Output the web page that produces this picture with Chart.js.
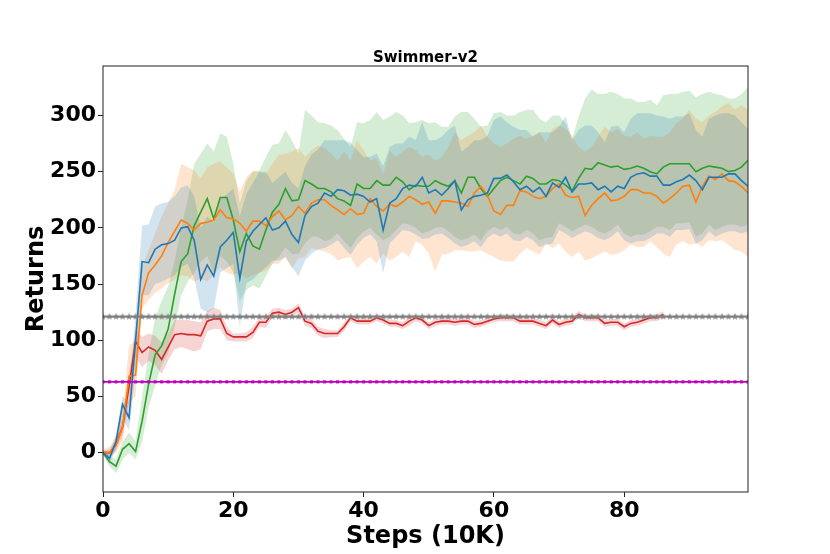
<!DOCTYPE html>
<html>
<head>
<meta charset="utf-8">
<script src="https://cdn.jsdelivr.net/npm/chart.js@4.4.1/dist/chart.umd.min.js"></script>
<style>
  html, body { margin: 0; padding: 0; background: #ffffff; }
  #wrap { width: 830px; height: 554px; }
</style>
</head>
<body>
<div id="wrap"><canvas id="c" width="830" height="554"></canvas></div>
<script>
// ---------- data ----------
const chartTitle = "Swimmer-v2";
const xTitle = "Steps (10K)";
const yTitle = "Returns";
const xTicks = [0, 20, 40, 60, 80];
const yTicks = [0, 50, 100, 150, 200, 250, 300];
const steps = Array.from({length: 100}, (_, i) => i);

const blueMean = [0,-5,10,43,31,100,170,169,181,185,186,189,200,201,189,154,167,157,183,189,196,155,188,197,203,209,198,200,206,194,187,211,219,222,231,228,234,233,229,230,228,223,226,198,222,226,235,238,237,245,231,234,229,235,242,216,225,228,229,231,244,244,247,241,234,237,232,236,228,240,236,245,232,239,239,240,234,237,232,237,235,245,248,249,246,246,238,238,241,243,247,242,234,245,245,245,248,248,242,237];
const blueUpper = [2,0,16,50,45,125,202,203,219,222,223,228,236,238,228,200,210,205,225,230,235,210,230,240,250,250,240,245,250,240,235,255,265,270,278,278,278,278,276,269,263,263,266,255,272,275,275,281,278,294,278,278,281,287,291,268,272,278,278,282,296,299,294,290,287,287,281,285,285,285,290,299,278,287,291,291,285,276,290,291,285,297,302,302,302,300,299,297,299,299,302,287,281,297,300,302,302,300,294,288];
const blueLower = [-2,-10,4,30,20,70,140,140,150,152,155,158,165,168,155,128,125,128,160,164,168,112,151,154,160,165,171,171,174,165,157,171,177,181,182,185,189,182,176,185,191,194,188,160,186,192,198,197,194,190,191,194,195,191,186,183,185,188,183,191,195,192,195,189,188,192,189,183,185,186,198,195,191,194,197,195,191,189,192,197,189,186,188,188,191,195,195,192,198,198,199,186,189,197,192,195,197,197,195,197];

const orangeMean = [0,0,7,22,68,69,140,160,167,175,187,197,207,204,198,204,205,207,216,209,208,204,197,206,206,202,210,215,207,211,219,213,222,225,225,220,216,212,217,212,213,226,219,215,221,219,223,228,225,221,223,213,224,224,223,222,219,231,237,229,215,212,220,220,233,232,228,226,228,235,239,229,227,228,211,220,226,231,224,225,228,234,234,231,231,228,222,226,231,237,238,223,237,246,243,248,242,241,237,231];
const orangeUpper = [3,5,15,35,95,100,165,180,195,210,222,234,257,254,251,244,254,257,259,254,248,232,245,251,250,248,257,265,266,268,271,263,269,273,271,266,260,268,260,278,269,260,262,248,268,263,268,272,269,263,265,260,263,272,285,278,282,285,291,281,275,272,275,279,282,279,282,285,276,288,291,288,282,272,268,272,281,290,285,288,282,281,285,279,282,281,281,285,293,297,305,297,294,300,303,308,311,305,309,305];
const orangeLower = [-3,-5,0,10,45,50,128,136,142,146,151,154,158,157,152,155,152,158,165,160,158,160,155,158,160,162,168,168,174,164,173,174,182,180,179,177,171,173,174,164,170,174,168,177,171,174,179,174,188,185,177,161,176,177,180,180,179,179,180,177,174,171,170,170,177,182,179,176,186,182,186,179,174,179,171,173,176,179,176,177,180,185,183,183,188,183,177,174,185,188,185,186,183,189,188,189,185,180,179,174];

const greenMean = [0,-8,-12,3,8,1,28,61,87,95,110,141,170,177,202,214,226,208,227,227,207,179,195,184,181,198,214,221,235,224,225,242,239,235,235,232,226,224,220,239,235,235,242,238,238,245,241,234,238,237,237,242,239,237,242,231,245,245,235,228,235,242,245,242,239,246,244,239,239,243,242,238,233,244,253,252,258,256,254,255,252,253,255,253,250,248,254,257,257,257,257,250,253,255,254,253,250,251,254,260];
const greenUpper = [2,-3,-6,10,18,10,50,88,120,135,148,171,200,225,257,266,275,268,284,281,257,222,242,250,251,263,274,275,287,278,266,305,300,294,293,291,287,279,272,294,293,296,303,296,299,303,300,293,294,296,293,294,290,290,299,303,303,297,290,291,302,303,300,300,303,305,305,297,294,300,300,293,279,299,315,323,319,319,321,319,315,315,312,312,314,309,318,319,319,321,322,316,319,321,319,318,315,315,319,325];
const greenLower = [-2,-12,-18,-6,0,-6,10,40,60,78,88,112,140,152,160,170,175,160,175,170,160,135,145,149,146,157,168,174,183,177,177,186,192,192,188,190,195,188,182,191,197,200,194,189,192,198,204,203,200,195,197,200,201,197,192,189,191,194,189,197,201,198,201,195,194,198,195,189,191,192,204,201,197,200,203,201,197,195,198,203,195,192,194,194,197,201,201,198,204,204,205,192,195,203,198,201,203,203,201,203];

const redMean = [0,0,7,23,59,99,89,94,91,83,94,105,106,105,105,104,117,119,119,106,103,103,103,107,116,116,124,125,123,125,129,117,115,108,106,106,106,112,120,117,117,117,120,118,115,115,113,117,120,118,113,116,117,117,116,117,117,114,115,117,119,120,120,120,117,117,117,115,113,118,114,116,117,123,120,120,120,115,116,116,112,115,116,118,120,120,123];
const redUpper = [2,3,12,30,72,110,103,106,104,98,106,118,118,118,117,116,126,129,127,112,106,106,107,112,120,121,128,129,127,128,133,121,119,112,110,109,109,116,123,120,120,120,123,121,118,118,116,121,123,121,116,119,120,120,119,120,120,117,118,120,122,123,123,123,120,120,120,118,116,121,117,119,120,126,123,123,123,118,119,119,115,118,119,121,123,123,126];
const redLower = [-2,-3,2,15,45,85,76,82,78,70,82,92,94,92,90,92,108,110,110,100,99,99,99,102,112,111,120,121,119,121,125,113,111,104,102,103,103,108,117,114,114,114,117,115,112,112,110,113,117,115,110,113,114,114,113,114,114,111,112,114,116,117,117,117,114,114,114,112,110,115,111,113,114,120,117,117,117,112,113,113,109,112,113,115,117,117,120];

const baselineGray = 121;
const baselineMagenta = 63;

// ---------- styles ----------
const C = {
  blue: '#1f77b4', orange: '#ff7f0e', green: '#2ca02c', red: '#d62728',
  gray: '#808080', magenta: '#bf00bf'
};
function rgba(hex, a) {
  const n = parseInt(hex.slice(1), 16);
  return `rgba(${(n >> 16) & 255},${(n >> 8) & 255},${n & 255},${a})`;
}
function pts(arr) { return arr.map((v, i) => ({x: steps[i], y: v})); }

// filled star marker
function makeStar(color, rOut, rIn) {
  const s = Math.ceil(rOut * 2 + 2);
  const cv = document.createElement('canvas');
  cv.width = s; cv.height = s;
  const g = cv.getContext('2d');
  g.fillStyle = color;
  g.beginPath();
  for (let k = 0; k < 10; k++) {
    const r = k % 2 === 0 ? rOut : rIn;
    const a = -Math.PI / 2 + k * Math.PI / 5;
    const px = s / 2 + r * Math.cos(a), py = s / 2 + r * Math.sin(a);
    if (k === 0) g.moveTo(px, py); else g.lineTo(px, py);
  }
  g.closePath();
  g.fill();
  return cv;
}
const starImg = makeStar(C.gray, 3.8, 1.6);

const series = [
  {c: C.blue, mean: blueMean, up: blueUpper, lo: blueLower},
  {c: C.orange, mean: orangeMean, up: orangeUpper, lo: orangeLower},
  {c: C.green, mean: greenMean, up: greenUpper, lo: greenLower},
  {c: C.red, mean: redMean, up: redUpper, lo: redLower}
];

const datasets = [];
series.forEach(s => {
  const base = datasets.length;
  datasets.push({
    data: pts(s.up), borderWidth: 0, pointRadius: 0, borderColor: 'rgba(0,0,0,0)',
    backgroundColor: rgba(s.c, 0.2), fill: {target: base + 1}, order: 5, tension: 0
  });
  datasets.push({
    data: pts(s.lo), borderWidth: 0, pointRadius: 0, borderColor: 'rgba(0,0,0,0)',
    fill: false, order: 5, tension: 0
  });
});
series.forEach(s => {
  datasets.push({
    data: pts(s.mean), borderColor: s.c, borderWidth: 1.6, pointRadius: 0,
    fill: false, order: 2, tension: 0
  });
});
datasets.push({
  data: steps.map(x => ({x, y: baselineGray})), borderColor: C.gray, borderWidth: 2,
  pointStyle: starImg, pointRadius: 4, fill: false, order: 1
});
datasets.push({
  data: steps.map(x => ({x, y: baselineMagenta})), borderColor: C.magenta, borderWidth: 1.6,
  pointStyle: 'rect', pointRadius: 2.2, pointBackgroundColor: C.magenta,
  pointBorderColor: C.magenta, pointBorderWidth: 0, fill: false, order: 1
});

const FONT = '"DejaVu Sans", "Liberation Sans", sans-serif';

const decor = {
  id: 'decor',
  afterDraw(chart) {
    const ctx = chart.ctx, a = chart.chartArea;
    ctx.save();
    ctx.strokeStyle = '#333';
    ctx.lineWidth = 1.1;
    ctx.strokeRect(a.left, a.top, a.right - a.left, a.bottom - a.top);
    ctx.fillStyle = '#000';
    ctx.textAlign = 'center';
    ctx.textBaseline = 'alphabetic';
    ctx.font = 'bold 15px ' + FONT;
    ctx.fillText(chartTitle, (a.left + a.right) / 2, a.top - 4);
    ctx.font = 'bold 24px ' + FONT;
    ctx.fillText(xTitle, (a.left + a.right) / 2, 543);
    ctx.translate(43, (a.top + a.bottom) / 2);
    ctx.rotate(-Math.PI / 2);
    ctx.fillText(yTitle, 0, 0);
    ctx.restore();
  }
};

new Chart(document.getElementById('c'), {
  type: 'line',
  data: {datasets},
  options: {
    responsive: false,
    devicePixelRatio: 1,
    animation: false,
    events: [],
    layout: {padding: {top: 66, right: 82, left: 0, bottom: 0}},
    plugins: {legend: {display: false}, tooltip: {enabled: false}, filler: {propagate: false}},
    scales: {
      x: {
        type: 'linear', min: 0, max: 99,
        afterBuildTicks: sc => { sc.ticks = xTicks.map(v => ({value: v})); },
        afterFit: sc => { sc.height = 62; },
        grid: {drawOnChartArea: false, drawTicks: true, tickLength: 5, color: '#222', lineWidth: 1},
        border: {display: false},
        ticks: {font: {family: FONT, size: 22, weight: 'bold'}, color: '#000', padding: 1, maxRotation: 0}
      },
      y: {
        type: 'linear', min: -35, max: 344,
        afterBuildTicks: sc => { sc.ticks = yTicks.map(v => ({value: v})); },
        afterFit: sc => { sc.width = 103; },
        grid: {drawOnChartArea: false, drawTicks: true, tickLength: 5, color: '#222', lineWidth: 1},
        border: {display: false},
        ticks: {font: {family: FONT, size: 22, weight: 'bold'}, color: '#000', padding: 2}
      }
    }
  },
  plugins: [decor]
});
</script>
</body>
</html>
